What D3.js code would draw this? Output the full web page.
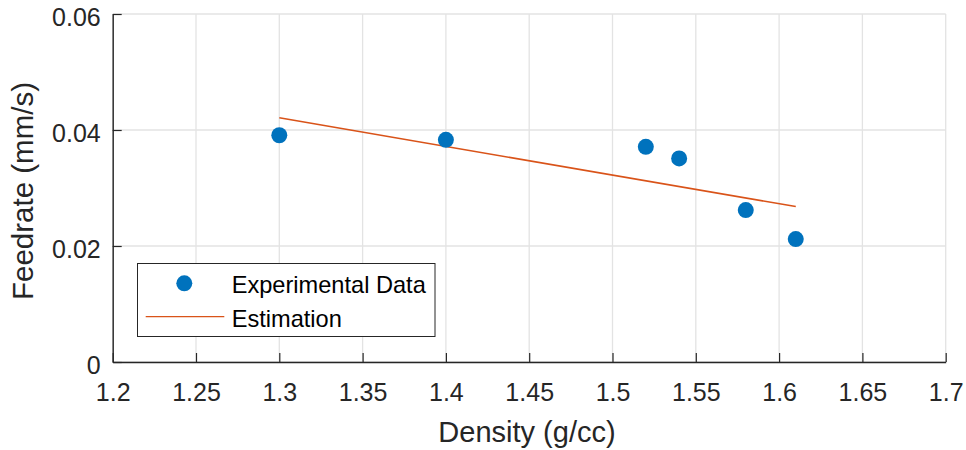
<!DOCTYPE html>
<html><head><meta charset="utf-8">
<script src="https://cdn.jsdelivr.net/npm/d3@7"></script>
<style>body{margin:0;background:#fff}svg{display:block}text{font-family:"Liberation Sans",Arial,Helvetica,sans-serif}</style>
</head><body><svg id="c" width="966" height="450"></svg>
<script>
const density = [1.30, 1.40, 1.52, 1.54, 1.58, 1.61];
const feedrate = [0.0391, 0.0383, 0.0371, 0.0351, 0.0262, 0.0212];
const estX = [1.30, 1.61];
const estY = [0.0421, 0.0268];
const xTicks = [1.2, 1.25, 1.3, 1.35, 1.4, 1.45, 1.5, 1.55, 1.6, 1.65, 1.7];
const yTicks = [0, 0.02, 0.04, 0.06];
const legendLabels = ["Experimental Data", "Estimation"];

const svg = d3.select("#c");
const x = d3.scaleLinear().domain([1.2, 1.7]).range([112.7, 945.7]);
const y = d3.scaleLinear().domain([0, 0.06]).range([362, 14]);
const axisCol = "#262626", gridCol = "#e3e3e3";

// grid
svg.append("g").selectAll("line").data(xTicks).join("line")
  .attr("x1", d => x(d)).attr("x2", d => x(d)).attr("y1", y(0)).attr("y2", y(0.06))
  .attr("stroke", gridCol).attr("stroke-width", 1.3);
svg.append("g").selectAll("line").data(yTicks).join("line")
  .attr("x1", x(1.2)).attr("x2", x(1.7)).attr("y1", d => y(d)).attr("y2", d => y(d))
  .attr("stroke", gridCol).attr("stroke-width", 1.3);

// axes
const xAxis = d3.axisBottom(x).tickValues(xTicks).tickSizeInner(-9).tickSizeOuter(0).tickPadding(22)
  .tickFormat(d => d3.format("")(+d.toFixed(2)));
const gx = svg.append("g").attr("transform", `translate(0,${y(0)})`).call(xAxis);
const yAxis = d3.axisLeft(y).tickValues(yTicks).tickSizeInner(-9).tickSizeOuter(0).tickPadding(12)
  .tickFormat(d => d === 0 ? "0" : d3.format(".2f")(d));
const gy = svg.append("g").attr("transform", `translate(${x(1.2)},0)`).call(yAxis);
[gx, gy].forEach(g => {
  g.select(".domain").attr("stroke", axisCol).attr("stroke-width", 1.4);
  g.selectAll(".tick line").attr("stroke", axisCol).attr("stroke-width", 1.2);
  g.selectAll(".tick text").attr("fill", axisCol).attr("font-size", 25)
    .attr("font-family", '"Liberation Sans",Arial,Helvetica,sans-serif');
});
gx.selectAll(".tick text").attr("dy", null).attr("y", 39);
gy.selectAll(".tick text").attr("dy", null).attr("y", 11).attr("x", -12);

// labels
svg.append("text").attr("x", 527).attr("y", 442).attr("text-anchor", "middle")
  .attr("font-size", 29).attr("fill", axisCol).text("Density (g/cc)");
svg.append("text").attr("transform", "translate(33,191) rotate(-90)").attr("text-anchor", "middle")
  .attr("font-size", 29.5).attr("fill", axisCol).text("Feedrate (mm/s)");

// estimation line
svg.append("path").datum(estX.map((d, i) => [d, estY[i]]))
  .attr("d", d3.line().x(d => x(d[0])).y(d => y(d[1])))
  .attr("stroke", "#D95319").attr("stroke-width", 1.6).attr("fill", "none");

// points
svg.append("g").selectAll("circle").data(density.map((d, i) => [d, feedrate[i]])).join("circle")
  .attr("cx", d => x(d[0])).attr("cy", d => y(d[1])).attr("r", 8).attr("fill", "#0072BD");

// legend
const lg = svg.append("g");
lg.append("rect").attr("x", 137.5).attr("y", 263.5).attr("width", 297.5).attr("height", 73)
  .attr("fill", "#fff").attr("stroke", "#262626").attr("stroke-width", 1);
lg.append("circle").attr("cx", 184.3).attr("cy", 283.3).attr("r", 8).attr("fill", "#0072BD");
lg.append("line").attr("x1", 145.7).attr("x2", 224.3).attr("y1", 316.7).attr("y2", 316.7)
  .attr("stroke", "#D95319").attr("stroke-width", 1.3);
lg.selectAll("text").data(legendLabels).join("text")
  .attr("x", 231.7).attr("y", (d, i) => 293.3 + i * 33.4)
  .attr("font-size", 23.6).attr("fill", "#000").text(d => d);
</script></body></html>
